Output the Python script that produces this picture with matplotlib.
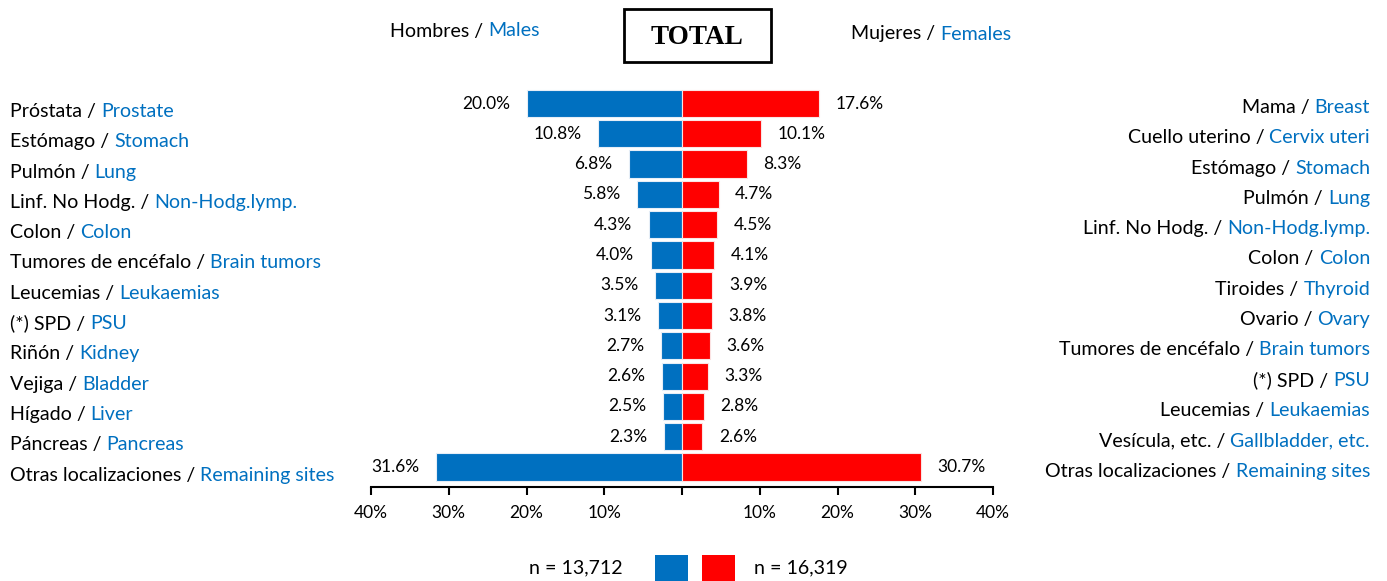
import matplotlib
matplotlib.use('Agg')
import matplotlib.pyplot as plt
from matplotlib import transforms
from matplotlib.patches import Rectangle

# ---------------- data ----------------
male_es = ["Próstata", "Estómago", "Pulmón", "Linf. No Hodg.", "Colon",
           "Tumores de encéfalo", "Leucemias", "(*) SPD", "Riñón", "Vejiga",
           "Hígado", "Páncreas", "Otras localizaciones"]
male_en = ["Prostate", "Stomach", "Lung", "Non-Hodg.lymp.", "Colon",
           "Brain tumors", "Leukaemias", "PSU", "Kidney", "Bladder",
           "Liver", "Pancreas", "Remaining sites"]
male_pct = [20.0, 10.8, 6.8, 5.8, 4.3, 4.0, 3.5, 3.1, 2.7, 2.6, 2.5, 2.3, 31.6]

female_es = ["Mama", "Cuello uterino", "Estómago", "Pulmón", "Linf. No Hodg.",
             "Colon", "Tiroides", "Ovario", "Tumores de encéfalo", "(*) SPD",
             "Leucemias", "Vesícula, etc.", "Otras localizaciones"]
female_en = ["Breast", "Cervix uteri", "Stomach", "Lung", "Non-Hodg.lymp.",
             "Colon", "Thyroid", "Ovary", "Brain tumors", "PSU",
             "Leukaemias", "Gallbladder, etc.", "Remaining sites"]
female_pct = [17.6, 10.1, 8.3, 4.7, 4.5, 4.1, 3.9, 3.8, 3.6, 3.3, 2.8, 2.6, 30.7]

n_male = "n = 13,712"
n_female = "n = 16,319"
title = "TOTAL"
header_male = ("Hombres", "Males")
header_female = ("Mujeres", "Females")
tick_vals = [-40, -30, -20, -10, 0, 10, 20, 30, 40]
tick_labels = ["40%", "30%", "20%", "10%", "", "10%", "20%", "30%", "40%"]

# ---------------- style ----------------
BLUE = "#0070C0"
RED = "#FF0000"
FS = 14.1
FS_PCT = 12.5
plt.rcParams['font.family'] = ['Lato', 'DejaVu Sans']

W, H = 1387, 581
DPI = 100
fig = plt.figure(figsize=(W / DPI, H / DPI), dpi=DPI)
fig.patch.set_facecolor('white')

ax_left, ax_right, ax_top, ax_bottom = 371, 993, 80, 487
ax = fig.add_axes([ax_left / W, 1 - ax_bottom / H, (ax_right - ax_left) / W,
                   (ax_bottom - ax_top) / H])

rows = list(range(len(male_pct)))
bm = ax.barh(rows, [-v for v in male_pct], height=0.9, color=BLUE,
             edgecolor='#e6eef7', linewidth=0.8)
bf = ax.barh(rows, female_pct, height=0.9, color=RED,
             edgecolor='#fbe3e3', linewidth=0.8)
ax.bar_label(bm, labels=[f"{v:.1f}%" for v in male_pct], padding=12, fontsize=FS_PCT)
ax.bar_label(bf, labels=[f"{v:.1f}%" for v in female_pct], padding=12, fontsize=FS_PCT)

ax.set_xlim(-40, 40)
ax.set_ylim(12.66, -0.776)
for s in ['left', 'right', 'top']:
    ax.spines[s].set_visible(False)
ax.spines['bottom'].set_linewidth(1.5)
ax.set_yticks([])
ax.set_xticks(tick_vals)
ax.set_xticklabels(tick_labels, fontsize=FS_PCT)
ax.tick_params(axis='x', direction='out', length=6, width=1.5, pad=7)

renderer = fig.canvas.get_renderer()


def text_width(s, fs):
    t = fig.text(0, 0, s, fontsize=fs)
    w = t.get_window_extent(renderer).width
    t.remove()
    return w


space_w = text_width("a a", FS) - text_width("aa", FS)


def px(dx, dy):
    return transforms.ScaledTranslation(dx / DPI, dy / DPI, fig.dpi_scale_trans)


def two_color_left(base, x, y, black, blue, fs=FS, dy=0):
    t1 = fig.text(x, y, black + " /", fontsize=fs, color='black', va='center',
                  ha='left', transform=base + px(0, dy))
    w1 = t1.get_window_extent(renderer).width
    fig.text(x, y, blue, fontsize=fs, color=BLUE, va='center', ha='left',
             transform=base + px(w1 + space_w, dy))


def two_color_right(base, x, y, black, blue, fs=FS, dy=0):
    t2 = fig.text(x, y, blue, fontsize=fs, color=BLUE, va='center', ha='right',
                  transform=base + px(0, dy))
    w2 = t2.get_window_extent(renderer).width
    fig.text(x, y, black + " /", fontsize=fs, color='black', va='center',
             ha='right', transform=base + px(-(w2 + space_w), dy))


row_trans = transforms.blended_transform_factory(fig.transFigure, ax.transData)
for i in rows:
    two_color_left(row_trans, 10 / W, i, male_es[i], male_en[i], dy=-8)
    two_color_right(row_trans, 1370 / W, i, female_es[i], female_en[i], dy=-4)

# headers
two_color_left(fig.transFigure, 390 / W, 1 - 31 / H, *header_male)
two_color_left(fig.transFigure, 851 / W, 1 - 34 / H, *header_female)

# title box
fig.patches.append(Rectangle((624 / W, 1 - 62 / H), (771 - 624) / W, (62 - 9) / H,
                             transform=fig.transFigure, fill=False,
                             edgecolor='black', linewidth=2))
fig.text(697 / W, 1 - 37 / H, title, fontsize=19.5, fontweight='bold',
         family='Liberation Serif', ha='center', va='center')

# legend
fig.patches.append(Rectangle((655 / W, 0), 33 / W, 26 / H, transform=fig.transFigure,
                             facecolor=BLUE, edgecolor='none'))
fig.patches.append(Rectangle((702 / W, 0), 33 / W, 26 / H, transform=fig.transFigure,
                             facecolor=RED, edgecolor='none'))
fig.text(623 / W, 1 - 568 / H, n_male, fontsize=FS, ha='right', va='center')
fig.text(754 / W, 1 - 568 / H, n_female, fontsize=FS, ha='left', va='center')

fig.savefig("out.png", dpi=DPI, facecolor='white')
